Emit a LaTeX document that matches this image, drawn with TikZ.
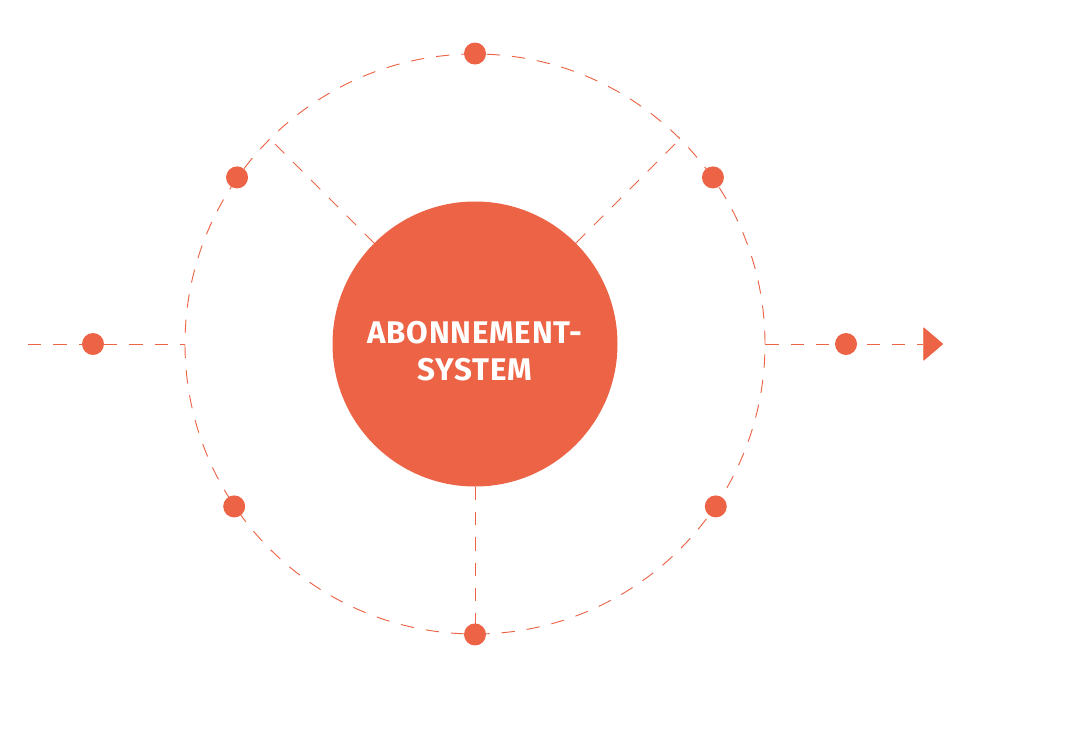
\documentclass[tikz,border=0pt]{standalone}
\usepackage{fontspec}
\setsansfont{Fira Sans}
\usetikzlibrary{arrows.meta, positioning}
\definecolor{abored}{RGB}{236,99,70}

\begin{document}
\begin{tikzpicture}[x=0.75pt,y=-0.75pt,every node/.style={font=\sffamily\bfseries},
  dashline/.style={abored,line width=0.7pt,dash pattern=on 10pt off 9pt},
  ringdot/.style={circle,fill=abored,minimum size=16.5pt,inner sep=0pt,outer sep=0pt}]
  \useasboundingbox (0,0) rectangle (1068,747);
  \node[circle,fill=abored,minimum size=213.75pt,inner sep=0pt] (core) at (475,344) {};
  \node[text=white,align=center,inner sep=0pt,
    font=\sffamily\bfseries\fontsize{23.5}{28}\selectfont\addfontfeatures{LetterSpace=2.5}]
    (title) at ([yshift=-5.6pt]core.center) {ABONNEMENT-\\SYSTEM};
  \node[circle,draw,dashline,minimum size=435pt,inner sep=0pt] (ring) at (475,344) {};
  \foreach \a in {45,135,270}{ \draw[dashline](core.\a)--(ring.\a); }
  \coordinate (start) at (28,344);
  \coordinate (tip) at (943,344);
  \draw[dashline](start)--(ring.west);
  \draw[dashline,-{Triangle[length=15pt,width=25.5pt,round]}](ring.east)--(tip);
  \foreach \a/\n in {90/n,145/nw,214/sw,270/s,326/se,35/ne}{ \node[ringdot] (d\n) at (ring.\a) {}; }
  \node[ringdot] (din) at (93,344) {};
  \node[ringdot] (dout) at (846,344) {};
\end{tikzpicture}
\end{document}
